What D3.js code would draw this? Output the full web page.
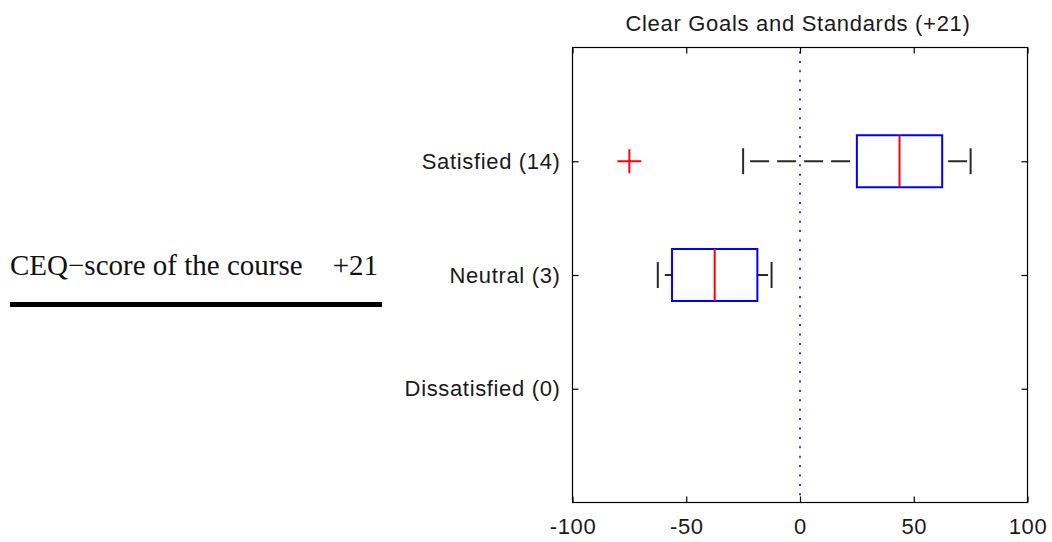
<!DOCTYPE html>
<html>
<head>
<meta charset="utf-8">
<script src="https://cdn.jsdelivr.net/npm/d3@7"></script>
<style>
  html, body { margin: 0; padding: 0; background: #fff; }
  svg { display: block; }
</style>
</head>
<body>
<svg id="chart" width="1052" height="542"></svg>
<script>
// Response groups and their box-plot statistics (CEQ score, -100..100)
const categories = ["Satisfied (14)", "Neutral (3)", "Dissatisfied (0)"];
const whiskerLow = [-25, -62.5, null];
const q1 = [25, -56.25, null];
const median = [43.75, -37.5, null];
const q3 = [62.5, -18.75, null];
const whiskerHigh = [75, -12.5, null];
const outliers = [[-75], [], []];
const xTicks = [-100, -50, 0, 50, 100];
const xTickLabels = ["-100", "-50", "0", "50", "100"];
const chartTitle = "Clear Goals and Standards (+21)";
const scoreLabel = "CEQ\u2212score of the course";
const scoreValue = "+21";

const svg = d3.select("#chart");
const plot = { left: 572.5, right: 1027.5, top: 47.5, bottom: 502.5 };
const sansFont = "'Liberation Sans', Arial, sans-serif";
const textColor = "#1a1a1a";

const x = d3.scaleLinear().domain([-100, 100]).range([plot.left, plot.right]);
const y = d3.scaleLinear().domain([0, 4]).range([plot.top, plot.bottom]);
const yPos = i => y(i + 1);

const boxHalf = 26;
const capHalf = 13;
const tickLen = 6;

// Reference line at zero
svg.append("line")
  .attr("x1", x(0)).attr("x2", x(0))
  .attr("y1", plot.top + 4).attr("y2", plot.bottom)
  .attr("stroke", "#3333ff").attr("stroke-width", 2)
  .attr("stroke-dasharray", "2,7.4");

// Frame
svg.append("rect")
  .attr("x", plot.left).attr("y", plot.top)
  .attr("width", plot.right - plot.left).attr("height", plot.bottom - plot.top)
  .attr("fill", "none").attr("stroke", "#000").attr("stroke-width", 1.2);

// Bottom axis with inward ticks; mirrored ticks on top
const xAxis = d3.axisBottom(x).tickValues(xTicks)
  .tickFormat((v, i) => xTickLabels[i])
  .tickSizeInner(-tickLen).tickSizeOuter(0).tickPadding(16);
const gx = svg.append("g").attr("transform", `translate(0,${plot.bottom})`).call(xAxis);
gx.select(".domain").remove();
gx.selectAll("line").attr("stroke", "#000").attr("stroke-width", 1.2);
gx.selectAll("text").attr("font-family", sansFont).attr("font-size", 22)
  .attr("letter-spacing", "0.6px").attr("fill", textColor);

const xTop = d3.axisTop(x).tickValues(xTicks).tickSizeInner(-tickLen).tickSizeOuter(0).tickFormat("");
const gxt = svg.append("g").attr("transform", `translate(0,${plot.top})`).call(xTop);
gxt.select(".domain").remove();
gxt.selectAll("line").attr("stroke", "#000").attr("stroke-width", 1.2);

// Category axis on the left, mirrored ticks on the right
const yCat = d3.scaleOrdinal().domain(categories).range(categories.map((c, i) => yPos(i)));
const yAxis = d3.axisLeft(yCat).tickSizeInner(-tickLen).tickSizeOuter(0).tickPadding(12);
const gy = svg.append("g").attr("transform", `translate(${plot.left},0)`).call(yAxis);
gy.select(".domain").remove();
gy.selectAll("line").attr("stroke", "#000").attr("stroke-width", 1.2);
gy.selectAll("text").attr("font-family", sansFont).attr("font-size", 22)
  .attr("letter-spacing", "0.65px").attr("fill", textColor);

const yRight = d3.axisRight(yCat).tickSizeInner(-tickLen).tickSizeOuter(0).tickFormat("");
const gyr = svg.append("g").attr("transform", `translate(${plot.right},0)`).call(yRight);
gyr.select(".domain").remove();
gyr.selectAll("line").attr("stroke", "#000").attr("stroke-width", 1.2);

// Title
svg.append("text")
  .attr("x", (plot.left + plot.right) / 2 - 2).attr("y", 31)
  .attr("text-anchor", "middle")
  .attr("font-family", sansFont).attr("font-size", 22)
  .attr("letter-spacing", "0.7px").attr("fill", textColor)
  .text(chartTitle);

// Box plots
const stats = categories.map((c, i) => ({
  i, lo: whiskerLow[i], q1: q1[i], med: median[i], q3: q3[i], hi: whiskerHigh[i], out: outliers[i]
})).filter(d => d.med !== null);

const g = svg.append("g");
stats.forEach(d => {
  const cy = yPos(d.i);
  // whiskers, drawn from the cap toward the box
  [[d.lo, d.q1, 20], [d.hi, d.q3, 23.5]].forEach(([end, edge, off]) => {
    g.append("line")
      .attr("x1", x(end)).attr("x2", x(edge)).attr("y1", cy).attr("y2", cy)
      .attr("stroke", "#2a2a2a").attr("stroke-width", 2)
      .attr("stroke-dasharray", "19,8").attr("stroke-dashoffset", off);
    g.append("line")
      .attr("x1", x(end)).attr("x2", x(end)).attr("y1", cy - capHalf).attr("y2", cy + capHalf)
      .attr("stroke", "#2a2a2a").attr("stroke-width", 2);
  });
  g.append("rect")
    .attr("x", x(d.q1)).attr("y", cy - boxHalf)
    .attr("width", x(d.q3) - x(d.q1)).attr("height", 2 * boxHalf)
    .attr("fill", "none").attr("stroke", "#0000ff").attr("stroke-width", 2);
  g.append("line")
    .attr("x1", x(d.med)).attr("x2", x(d.med)).attr("y1", cy - boxHalf).attr("y2", cy + boxHalf)
    .attr("stroke", "#ff0000").attr("stroke-width", 2);
  d.out.forEach(v => {
    g.append("path")
      .attr("d", `M${x(v) - 12},${cy}H${x(v) + 12}M${x(v)},${cy - 12}V${cy + 12}`)
      .attr("stroke", "#ff0000").attr("stroke-width", 2).attr("fill", "none");
  });
});

// Course score annotation
svg.append("text")
  .attr("x", 10).attr("y", 275)
  .attr("font-family", "'Liberation Serif', 'Times New Roman', serif")
  .attr("font-size", 29).attr("fill", "#111")
  .text(scoreLabel);
svg.append("text")
  .attr("x", 378).attr("y", 275).attr("text-anchor", "end")
  .attr("font-family", "'Liberation Serif', 'Times New Roman', serif")
  .attr("font-size", 29).attr("fill", "#111")
  .text(scoreValue);
svg.append("rect")
  .attr("x", 10).attr("y", 302).attr("width", 372).attr("height", 5).attr("fill", "#000");
</script>
</body>
</html>
